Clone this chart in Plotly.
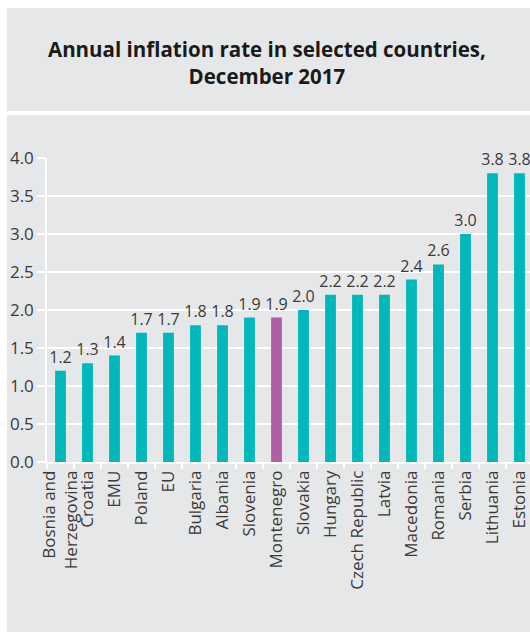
import plotly.graph_objects as go

countries = ["Bosnia and<br>Herzegovina", "Croatia", "EMU", "Poland", "EU", "Bulgaria",
             "Albania", "Slovenia", "Montenegro", "Slovakia", "Hungary", "Czech Republic",
             "Latvia", "Macedonia", "Romania", "Serbia", "Lithuania", "Estonia"]
inflation = [1.2, 1.3, 1.4, 1.7, 1.7, 1.8, 1.8, 1.9, 1.9, 2.0, 2.2, 2.2, 2.2, 2.4, 2.6, 3.0, 3.8, 3.8]
highlight = "Montenegro"

TEAL = "#00b8b9"
PURPLE = "#b05ea5"
BG = "#e6e7e8"
TXT = "#3a3a3a"

W, H = 530, 632
colors = [PURPLE if c == highlight else TEAL for c in countries]

fig = go.Figure()
fig.add_trace(go.Bar(
    x=countries, y=inflation, marker=dict(color=colors, line=dict(width=0)),
    text=[f"{v:.1f}" for v in inflation], textposition="outside",
    textfont=dict(family="Open Sans", size=16, color=TXT),
    constraintext="none", cliponaxis=False, hoverinfo="skip",
))

def px(x):
    return x / W

def py(y):
    return 1 - y / H

fig.update_layout(
    width=W, height=H, margin=dict(l=0, r=0, t=0, b=0),
    paper_bgcolor="white", plot_bgcolor=BG, showlegend=False,
    bargap=0.6,
    shapes=[
        dict(type="rect", xref="paper", yref="paper", x0=px(7), x1=1, y0=py(111), y1=py(8),
             fillcolor=BG, line=dict(width=0), layer="below"),
        dict(type="rect", xref="paper", yref="paper", x0=px(7), x1=1, y0=0, y1=py(115),
             fillcolor=BG, line=dict(width=0), layer="below"),
    ],
    annotations=[
        dict(text="<b>Annual inflation rate in selected countries,<br>December 2017</b>",
             xref="paper", yref="paper", x=px(267), y=py(63), xanchor="center", yanchor="middle",
             showarrow=False, font=dict(family="Open Sans", size=20.5, color="#1a1a1a")),
    ],
    xaxis=dict(
        domain=[px(47), 1], range=[-0.5, -0.5 + (W - 47) / 27.0],
        tickson="boundaries", ticks="outside", ticklen=5, tickcolor="white", tickwidth=1.5,
        showline=True, linecolor="white", linewidth=1.5, showgrid=False,
        tickangle=-90, tickfont=dict(family="Open Sans", size=17, color=TXT),
        automargin=False, fixedrange=True,
    ),
    yaxis=dict(
        domain=[py(462), py(158)], range=[0, 4], dtick=0.5, tickformat=".1f",
        ticks="outside", ticklen=8, tickcolor="white", tickwidth=1.5,
        showline=True, linecolor="white", linewidth=1.5,
        showgrid=True, gridcolor="white", gridwidth=1.5, zeroline=False,
        tickfont=dict(family="Open Sans", size=17, color=TXT),
        automargin=False, fixedrange=True,
    ),
)

fig.write_html("out.html", config={"displayModeBar": False})
